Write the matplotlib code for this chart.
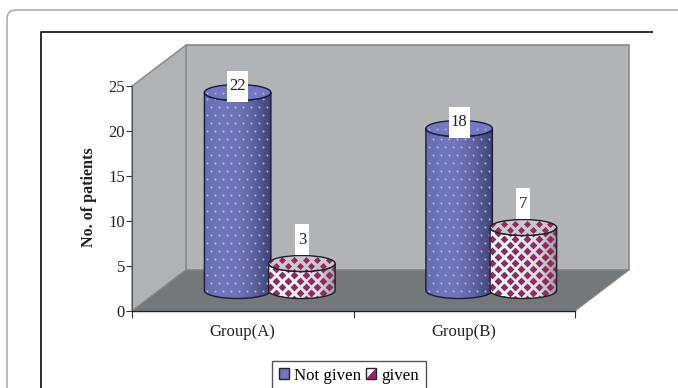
import numpy as np
import matplotlib
matplotlib.use("Agg")
import matplotlib.pyplot as plt
from matplotlib.patches import Ellipse, FancyBboxPatch, PathPatch, Polygon, Rectangle
from matplotlib.path import Path
from matplotlib.legend_handler import HandlerBase

plt.rcParams["font.family"] = ["Liberation Serif", "DejaVu Serif"]

categories = ["Group(A)", "Group(B)"]
series_names = ["Not given", "given"]
not_given = [22, 18]
given = [3, 7]
y_ticks = [0, 5, 10, 15, 20, 25]
y_label = "No. of patients"

W, H = 678, 388
PLOT_L, PLOT_R, PLOT_T, PLOT_B = 132, 575, 86, 311
X_MAX, Y_MAX = 2, 25
PX_X = (PLOT_R - PLOT_L) / X_MAX   # pixels per x data unit
PX_Y = (PLOT_B - PLOT_T) / Y_MAX   # pixels per y data unit
DEPTH_X, DEPTH_Y = 54 / PX_X, 41 / PX_Y
BAR_W = 66.5 / PX_X
BAR_SHIFT = 0.145
RY = 8 / PX_Y

fig = plt.figure(figsize=(W / 100, H / 100), dpi=100, facecolor="white")

# page card and the chart's own frame, in pixel coordinates
page = fig.add_axes([0, 0, 1, 1], zorder=0)
page.set_xlim(0, W)
page.set_ylim(H, 0)
page.axis("off")
page.add_patch(FancyBboxPatch((15, 18), 720, 420, boxstyle="round,pad=8,rounding_size=9",
                              fc="white", ec="#a2a2a2", lw=1.0, clip_on=False))
page.plot([41, 41, 653], [H + 5, 32, 32], color="#1a1a1a", lw=1.3, solid_capstyle="butt")

ax = fig.add_axes([PLOT_L / W, 1 - PLOT_B / H, (PLOT_R - PLOT_L) / W, (PLOT_B - PLOT_T) / H],
                  zorder=1)
ax.patch.set_visible(False)
ax.set_xlim(0, X_MAX)
ax.set_ylim(0, Y_MAX)

WALL_EDGE = "#86898a"
ax.add_patch(Rectangle((DEPTH_X, DEPTH_Y), X_MAX, Y_MAX, fc="#b1b3b4", ec=WALL_EDGE, lw=1.2,
                       clip_on=False, zorder=1))
ax.add_patch(Polygon([(0, 0), (DEPTH_X, DEPTH_Y), (DEPTH_X, DEPTH_Y + Y_MAX), (0, Y_MAX)],
                     fc="#afb1b2", ec=WALL_EDGE, lw=1.0, clip_on=False, zorder=1.1))
ax.add_patch(Polygon([(0, 0), (X_MAX, 0), (X_MAX + DEPTH_X, DEPTH_Y), (DEPTH_X, DEPTH_Y)],
                     fc="#757879", ec=WALL_EDGE, lw=0.8, clip_on=False, zorder=1.2))


def cylinder_path(cx, top):
    t = np.linspace(np.pi, 2 * np.pi, 50)
    xs = cx + BAR_W / 2 * np.cos(t)
    low = DEPTH_Y / 2 + RY * np.sin(t)
    up = top + RY * np.sin(t)
    verts = np.r_[np.c_[xs, low], np.c_[xs[::-1], up[::-1]], [[xs[0], low[0]]]]
    codes = [Path.MOVETO] + [Path.LINETO] * (len(verts) - 2) + [Path.CLOSEPOLY]
    return Path(verts, codes)


def fill_dots(cx, y0, y1, clip, step_x, step_y, z, **style):
    xs, ys = [], []
    x_span = np.arange(cx - BAR_W, cx + BAR_W, step_x / PX_X)
    for i, y in enumerate(np.arange(y0, y1, step_y / PX_Y)):
        xs.extend(x_span + (i % 2) * step_x / 2 / PX_X)
        ys.extend([y] * len(x_span))
    dots = ax.scatter(xs, ys, zorder=z, linewidths=0, clip_on=True, **style)
    dots.set_clip_path(clip)


def draw_cylinder(x, value, z, shades, top_fc, dot_style, spacing, edge):
    cx = x + DEPTH_X / 2
    base = DEPTH_Y / 2
    top = base + value
    cmap = matplotlib.colors.LinearSegmentedColormap.from_list("shade", shades)
    body = PathPatch(cylinder_path(cx, top), fc="none", ec="none", zorder=z)
    ax.add_patch(body)
    im = ax.imshow(np.linspace(0, 1, 64)[None, :], cmap=cmap, aspect="auto", zorder=z + 0.01,
                   extent=(cx - BAR_W / 2, cx + BAR_W / 2, base - RY, top + RY), clip_on=True)
    im.set_clip_path(body)
    fill_dots(cx, base - RY, top + RY, body, spacing[0], spacing[1], z + 0.02, **dot_style)
    ax.add_patch(PathPatch(cylinder_path(cx, top), fc="none", ec=edge, lw=1.0,
                           zorder=z + 0.03, clip_on=False))
    lid = Ellipse((cx, top), BAR_W, 2 * RY, fc=top_fc, ec="none", zorder=z + 0.04, clip_on=False)
    ax.add_patch(lid)
    lid_style = dict(dot_style)
    lid_style["s"] = dot_style["s"] * 0.8
    fill_dots(cx, top - RY, top + RY, lid, spacing[0], spacing[1], z + 0.05, **lid_style)
    ax.add_patch(Ellipse((cx, top), BAR_W, 2 * RY, fc="none", ec=edge, lw=1.0,
                         zorder=z + 0.06, clip_on=False))
    ax.set_xlim(0, X_MAX)
    ax.set_ylim(0, Y_MAX)


BLUE_SHADES = ["#666cae", "#7076bb", "#6e74ba", "#5c619f", "#3f4375"]
MAROON_SHADES = ["#eeeeee", "#ffffff", "#e8e8e8", "#dadada", "#9a9b9b"]
BLUE_DOTS = dict(marker="o", s=2.0, color="#b4b8e2")
MAROON_DOTS = dict(marker="D", s=16, color="#8e2a63")

LABEL_W, LABEL_H = 21 / PX_X, 31 / PX_Y

for i, (a, b) in enumerate(zip(not_given, given)):
    left = i + 0.5 - BAR_SHIFT
    right = i + 0.5 + BAR_SHIFT
    draw_cylinder(left, a, 3 + i * 2, BLUE_SHADES, "#7378c0", BLUE_DOTS, (8, 8), "#1c1c3a")
    draw_cylinder(right, b, 4 + i * 2, MAROON_SHADES, "#c9c9ca", MAROON_DOTS, (11.7, 6), "#1f1f28")

# data labels sit on white tabs; short cylinders have theirs lifted clear of the lid
for i, pair in enumerate(zip(not_given, given)):
    for j, value in enumerate(pair):
        x = i + 0.5 + (2 * j - 1) * BAR_SHIFT + DEPTH_X / 2
        lift = 6 / PX_Y if value > 10 else 24 / PX_Y
        cy = DEPTH_Y / 2 + value + lift
        w = LABEL_W if value >= 10 else 14 / PX_X
        ax.add_patch(Rectangle((x - w / 2, cy - LABEL_H / 2), w, LABEL_H, fc="white", ec="none",
                               zorder=10, clip_on=False))
        ax.text(x, cy, str(value), ha="center", va="center", fontsize=12, color="#222222",
                zorder=11, clip_on=False)

ax.set_yticks(y_ticks)
ax.set_xticks([0, 1, 2])
ax.set_xticklabels([])
ax.set_xticks([0.5, 1.5], minor=True)
ax.set_xticklabels(categories, minor=True, fontsize=12, color="#222222")
ax.tick_params(axis="x", which="minor", length=0, pad=9)
ax.tick_params(axis="x", which="major", length=5, width=0.8, color="#333333")
ax.tick_params(axis="y", length=4, width=0.8, color="#333333", labelsize=12, labelcolor="#222222", pad=1)
for side in ("top", "right"):
    ax.spines[side].set_visible(False)
ax.spines["left"].set_color("#555555")
ax.spines["bottom"].set_color("#222222")
ax.spines["bottom"].set_linewidth(1.0)
ax.spines["left"].set_zorder(2)
ax.spines["bottom"].set_zorder(2)
fig.text(89 / W, 1 - 197 / H, y_label, rotation=90, ha="center", va="center", fontsize=11.6,
         fontweight="bold", color="#222222")


class SplitSwatch(HandlerBase):
    def create_artists(self, legend, orig, xd, yd, width, height, fontsize, trans):
        box = Rectangle((-xd, -yd), width, height, fc="white", ec="#222233", lw=1.0, transform=trans)
        tri = Polygon([(-xd, -yd), (width - xd, -yd), (width - xd, height - yd)], fc="#8e2a63",
                      ec="none", transform=trans)
        return [box, tri]


blue_swatch = Rectangle((0, 0), 1, 1, fc="#7076bb", ec="#222233", lw=1.0)
maroon_swatch = Rectangle((0, 0), 1, 1)
leg = fig.legend([blue_swatch, maroon_swatch], series_names, ncol=2, loc="upper left",
                 bbox_to_anchor=(272 / W, 1 - 361 / H), bbox_transform=fig.transFigure,
                 borderaxespad=0, fontsize=12.2, fancybox=False, framealpha=1, edgecolor="#555555",
                 handlelength=0.6, handleheight=0.6, handletextpad=0.3, columnspacing=0.3,
                 borderpad=0.4, handler_map={maroon_swatch: SplitSwatch()})
leg.get_frame().set_linewidth(1.0)
leg.set_zorder(5)

fig.savefig("out.png", dpi=100)
